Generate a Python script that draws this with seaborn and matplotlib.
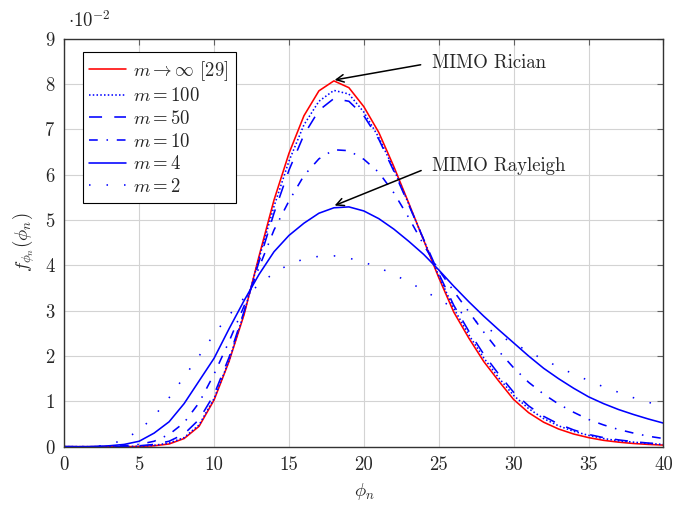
import numpy as np
import pandas as pd
import matplotlib
matplotlib.use("Agg")
import matplotlib.pyplot as plt
import seaborn as sns

# x grid and curve values (y in units of 1e-2)
phi = list(range(0, 41))
m_inf = [0, 0, 0, 0, 0.0, 0.005, 0.02, 0.06, 0.18, 0.45,
         1.03, 1.88, 2.91, 4.2, 5.44, 6.47, 7.3, 7.85, 8.07, 7.92,
         7.5, 6.93, 6.18, 5.37, 4.55, 3.73, 2.97, 2.4, 1.88, 1.45,
         1.04, 0.75, 0.54, 0.39, 0.28, 0.2, 0.14, 0.1, 0.07, 0.05, 0.035]
m_100 = [0, 0, 0, 0, 0.002, 0.01, 0.03, 0.08, 0.2, 0.48,
         1.06, 1.9, 2.95, 4.15, 5.3, 6.3, 7.1, 7.62, 7.86, 7.78,
         7.38, 6.82, 6.12, 5.35, 4.56, 3.77, 3.05, 2.47, 1.96, 1.52,
         1.13, 0.84, 0.62, 0.46, 0.34, 0.25, 0.18, 0.13, 0.1, 0.07, 0.05]
m_50 = [0, 0, 0, 0.001, 0.005, 0.02, 0.05, 0.12, 0.28, 0.6,
        1.15, 1.97, 2.98, 4.08, 5.15, 6.1, 6.88, 7.42, 7.68, 7.62,
        7.3, 6.78, 6.08, 5.33, 4.57, 3.82, 3.12, 2.55, 2.04, 1.6,
        1.2, 0.9, 0.67, 0.5, 0.37, 0.27, 0.2, 0.15, 0.11, 0.08, 0.06]
m_10 = [0, 0, 0, 0.005, 0.02, 0.05, 0.12, 0.27, 0.53, 0.97,
        1.6, 2.32, 3.1, 3.95, 4.78, 5.42, 5.98, 6.35, 6.55, 6.53,
        6.34, 6.05, 5.6, 5.05, 4.45, 3.9, 3.43, 2.98, 2.53, 2.11,
        1.74, 1.42, 1.16, 0.94, 0.76, 0.6, 0.48, 0.38, 0.3, 0.23, 0.18]
m_4 = [0, 0, 0.003, 0.02, 0.05, 0.12, 0.3, 0.55, 0.95, 1.45,
       1.95, 2.6, 3.22, 3.8, 4.3, 4.66, 4.93, 5.15, 5.27, 5.29,
       5.2, 5.03, 4.8, 4.53, 4.24, 3.9, 3.54, 3.2, 2.88, 2.58,
       2.29, 2.0, 1.73, 1.5, 1.29, 1.1, 0.95, 0.82, 0.71, 0.61, 0.52]
m_2 = [0, 0, 0.005, 0.04, 0.16, 0.36, 0.67, 1.08, 1.54, 2.0,
       2.48, 2.9, 3.28, 3.58, 3.83, 4.02, 4.14, 4.2, 4.21, 4.16,
       4.07, 3.95, 3.8, 3.63, 3.45, 3.25, 3.06, 2.86, 2.66, 2.46,
       2.28, 2.1, 1.92, 1.76, 1.6, 1.46, 1.32, 1.2, 1.08, 0.98, 0.88]

labels = [r"$m \rightarrow \infty$ [29]", r"$m = 100$", r"$m = 50$",
          r"$m = 10$", r"$m = 4$", r"$m = 2$"]
series = [m_inf, m_100, m_50, m_10, m_4, m_2]
colors = ["#ff0000", "#0000ff", "#0000ff", "#0000ff", "#0000ff", "#0000ff"]
styles = ["-", (0, (1.1, 1.6)), (0, (9.4, 8.8)), (0, (6.3, 6.3, 1.1, 6.3)),
          "-", (0, (1.1, 11.5))]

sns.set_style("white")
plt.rcParams["font.family"] = "cmr10"
plt.rcParams["mathtext.fontset"] = "cm"
plt.rcParams["axes.formatter.use_mathtext"] = True
plt.rcParams["lines.scale_dashes"] = False

fig = plt.figure(figsize=(6.73, 5.08), dpi=100)
ax = fig.add_axes([0.0955, 0.1207, 0.8903, 0.8031])

for vals, lab, col, ls in zip(series, labels, colors, styles):
    df = pd.DataFrame({"phi": phi, "f": vals})
    sns.lineplot(data=df, x="phi", y="f", ax=ax, color=col, linestyle=ls,
                 linewidth=1.15, label=lab)

ax.set_xlim(0, 40)
ax.set_ylim(0, 9)
ax.set_xticks(range(0, 41, 5))
ax.set_yticks(range(0, 10))
ax.set_xticklabels([str(v) for v in range(0, 41, 5)])
ax.set_yticklabels([str(v) for v in range(0, 10)])
ax.grid(True, color="#d3d3d3", linewidth=0.8)
ax.set_axisbelow(True)
ax.tick_params(direction="in", length=4, width=0.8, color="#606060",
               labelsize=13.5, top=True, right=True, pad=7)
for sp in ax.spines.values():
    sp.set_color("#333333")
    sp.set_linewidth(1.0)

ax.set_xlabel(r"$\phi_n$", fontsize=13.5)
ax.set_ylabel(r"$f_{\phi_n}(\phi_n)$", fontsize=13.5)
ax.xaxis.set_label_coords(0.5, -0.085)
ax.yaxis.set_label_coords(-0.045, 0.5)

ax.text(0.006, 1.018, r"$\cdot 10^{-2}$", transform=ax.transAxes,
        fontsize=13.5, ha="left", va="bottom")

arrow = dict(arrowstyle="->,head_length=0.4,head_width=0.2", color="black",
             lw=1.1, shrinkA=6, shrinkB=0, relpos=(0, 0.5))
ax.annotate("MIMO Rician", xy=(18.05, 8.09), xytext=(24.56, 8.47),
            fontsize=13.5, ha="left", va="center", arrowprops=arrow)
ax.annotate("MIMO Rayleigh", xy=(18.05, 5.32), xytext=(24.56, 6.19),
            fontsize=13.5, ha="left", va="center", arrowprops=arrow)

leg = ax.legend(loc="upper left", bbox_to_anchor=(0.031, 0.967),
                borderaxespad=0, fontsize=13.5, frameon=True,
                fancybox=False, framealpha=1, edgecolor="black",
                handlelength=1.95, handletextpad=0.4, labelspacing=0.25,
                borderpad=0.35)
leg.get_frame().set_linewidth(0.8)

fig.savefig("out.png", dpi=100)
